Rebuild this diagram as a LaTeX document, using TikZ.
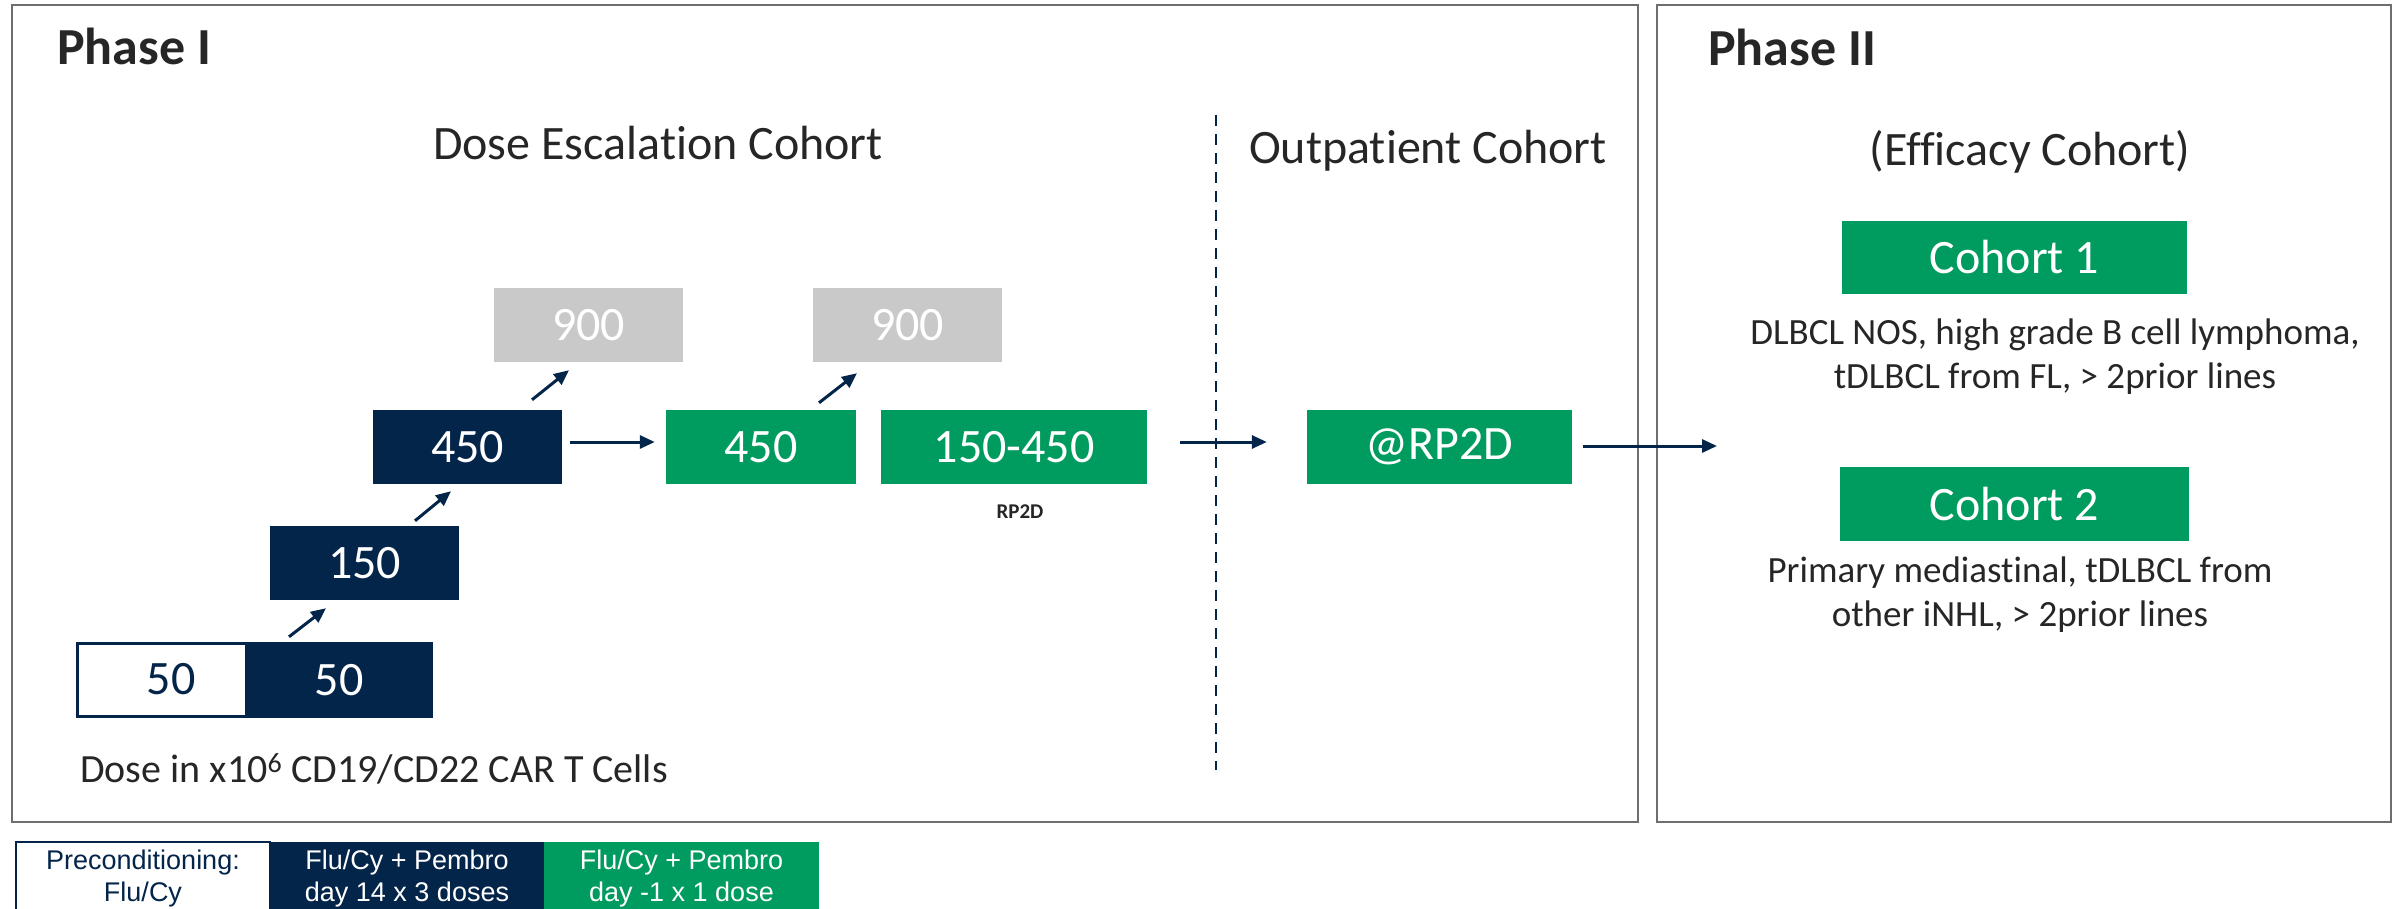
\documentclass[tikz,border=0pt]{standalone}
\usepackage{fontspec}
\setmainfont{Carlito}[Ligatures=NoCommon]
\newfontfamily\arialf{Liberation Sans}
\usetikzlibrary{arrows.meta}
\definecolor{navy}{HTML}{03254A}
\definecolor{grn}{HTML}{009B5E}
\definecolor{lgray}{HTML}{C9C9C9}
\definecolor{framec}{HTML}{6E6E6E}
\definecolor{txt}{HTML}{262626}
\begin{document}
\begin{tikzpicture}[x=1pt,y=-1pt,
  phase/.style={draw=framec,line width=2.5pt},
  dbox/.style={inner sep=0pt, minimum height=74pt, text=white, font=\fontsize{48}{58}\selectfont},
  navybox/.style={dbox, fill=navy},
  greenbox/.style={dbox, fill=grn},
  graybox/.style={dbox, fill=lgray},
  heading/.style={font=\bfseries\fontsize{52}{62}\selectfont, text=txt, inner sep=0pt},
  sub/.style={font=\fontsize{48}{58}\selectfont, text=txt, inner sep=0pt},
  desc/.style={align=center, text=txt, font=\fontsize{37}{44}\selectfont, inner sep=0pt},
  legend/.style={align=center, inner sep=0pt, minimum height=74pt, font=\arialf\fontsize{27}{32}\selectfont},
  arr/.style={draw=navy, line width=3pt, -{Triangle[length=15pt,width=13pt]}}
]
\clip (0,0) rectangle (2399,909);
\fill[white] (0,0) rectangle (2399,909);

\draw[phase] (12,5) rectangle (1638,822);
\draw[phase] (1657,5) rectangle (2391,822);

\node[heading, anchor=base west] (p1) at (57,65) {Phase I};
\node[heading, anchor=base west] (p2) at (1708,66) {Phase II};

\node[sub, anchor=base] (dec) at (658,160) {Dose Escalation Cohort};
\node[sub, anchor=base] (opc) at (1428,164) {Outpatient Cohort};
\node[sub, anchor=base] (efc) at (2030,166) {(Efficacy Cohort)};

\coordinate (dtop) at (1216,115);
\coordinate (dbot) at (1216,770);
\draw[navy, line width=2pt, dash pattern=on 11pt off 8pt] (dtop) -- (dbot);

\node[graybox, minimum width=189pt] (g900a) at (588.5,325) {900};
\node[graybox, minimum width=189pt] (g900b) at (907.5,325) {900};
\node[navybox, minimum width=189pt] (n450) at (467.5,447) {450};
\node[greenbox, minimum width=190pt] (g450) at (761,447) {450};
\node[greenbox, minimum width=266pt] (g150) at (1014,447) {150-450};
\node[font=\bfseries\fontsize{21}{25}\selectfont, text=txt, inner sep=0pt] (rp2d) at (1020,512) {RP2D};
\node[navybox, minimum width=189pt] (n150) at (364.5,563) {150};
\node[dbox, draw=navy, line width=3pt, fill=white, text=navy, minimum width=188pt, minimum height=73pt] (w50) at (171,679.5) {50};
\node[navybox, minimum width=188pt, minimum height=76pt] (n50) at (339,680) {50};

\node[font=\fontsize{40}{48}\selectfont, text=txt, inner sep=0pt, anchor=base west] (dose) at (80,782) {Dose in x10\textsuperscript{6} CD19/CD22 CAR T Cells};

\node[greenbox, minimum width=265pt] (rp) at (1439.5,447) {@RP2D};
\node[greenbox, minimum width=345pt, minimum height=73pt] (c1) at (2014.5,257.5) {Cohort 1};
\node[greenbox, minimum width=349pt] (c2) at (2014.5,504) {Cohort 2};
\node[desc] (d1) at (2055,357) {DLBCL NOS, high grade B cell lymphoma,\\tDLBCL from FL, > 2prior lines};
\node[desc] (d2) at (2020,595) {Primary mediastinal, tDLBCL from\\other iNHL, > 2prior lines};

\node[legend, draw=navy, line width=2.5pt, fill=white, text=navy, minimum width=254pt] (lw) at (143,879) {Preconditioning:\\Flu/Cy};
\node[legend, fill=navy, text=white, minimum width=274pt] (ln) at (407,879) {Flu/Cy + Pembro\\day 14 x 3 doses};
\node[legend, fill=grn, text=white, minimum width=275pt] (lg) at (681.5,879) {Flu/Cy + Pembro\\day -1 x 1 dose};

\draw[arr] ([xshift=8pt,yshift=5pt]n450.east) -- ([xshift=-11pt,yshift=5pt]g450.west);
\draw[arr] ([xshift=33pt,yshift=5pt]g150.east) -- ([xshift=-40pt,yshift=5pt]rp.west);
\coordinate (p2in) at (1717,446);
\draw[arr] ([xshift=11pt,yshift=1pt]rp.east) -- (p2in);
\draw[arr] ([xshift=-50pt,yshift=5pt]n50.north) -- ([xshift=-38.5pt,yshift=-8pt]n150.south);
\draw[arr] ([xshift=50.5pt,yshift=5pt]n150.north) -- ([xshift=-16.5pt,yshift=-7pt]n450.south);
\draw[arr] ([xshift=64.5pt,yshift=10pt]n450.north) -- ([xshift=-19.5pt,yshift=-8pt]g900a.south);
\draw[arr] ([xshift=58pt,yshift=7pt]g450.north) -- ([xshift=-50.5pt,yshift=-11pt]g900b.south);
\end{tikzpicture}
\end{document}
